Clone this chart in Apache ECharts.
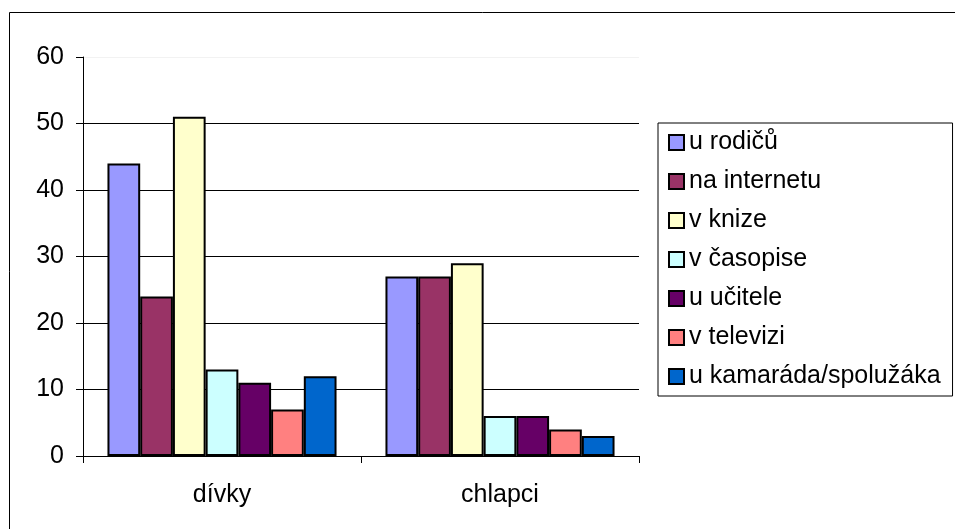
<!DOCTYPE html>
<html>
<head>
<meta charset="utf-8">
<script src="https://cdn.jsdelivr.net/npm/echarts@6/dist/echarts.min.js"></script>
<style>
  html, body { margin: 0; padding: 0; background: #fff; }
  #chart { width: 955px; height: 529px; }
</style>
</head>
<body>
<div id="chart"></div>
<script>
  // kategorie a hodnoty
  const categories = ['dívky', 'chlapci']
  const seriesNames = ['u rodičů', 'na internetu', 'v knize', 'v časopise', 'u učitele', 'v televizi', 'u kamaráda/spolužáka']
  const uRodicu = [44, 27]
  const naInternetu = [24, 27]
  const vKnize = [51, 29]
  const vCasopise = [13, 6]
  const uUcitele = [11, 6]
  const vTelevizi = [7, 4]
  const uKamarada = [12, 3]
  const yTicks = [0, 10, 20, 30, 40, 50, 60]

  const seriesValues = [uRodicu, naInternetu, vKnize, vCasopise, uUcitele, vTelevizi, uKamarada]
  const colors = ['#9999FF', '#993366', '#FFFFCC', '#CCFFFF', '#660066', '#FF8080', '#0066CC']
  const font = "'Liberation Sans', Arial, sans-serif"

  let chart = echarts.init(document.getElementById('chart'))
  let option = {
    animation: false,
    color: colors,
    textStyle: { fontFamily: font },
    graphic: [{
      type: 'rect', // vnější rámeček
      shape: { x: 9.5, y: 12.5, width: 1000, height: 600 },
      style: { fill: 'none', stroke: '#000', lineWidth: 1 },
      silent: true
    }],
    grid: { left: 83, right: 316, top: 57, bottom: 73 },
    legend: {
      orient: 'vertical',
      left: 658,
      top: 123,
      padding: [7, 12, 7, 10],
      itemGap: 14,
      itemWidth: 15,
      itemHeight: 15,
      icon: 'rect',
      borderColor: '#000',
      borderWidth: 1,
      selectedMode: false,
      textStyle: { fontSize: 25, lineHeight: 25, color: '#000', fontFamily: font },
      itemStyle: { borderColor: '#000', borderWidth: 2 },
      data: seriesNames
    },
    xAxis: {
      type: 'category',
      data: categories,
      axisLine: { lineStyle: { color: '#000', width: 1 } },
      axisTick: { show: true, length: 7, lineStyle: { color: '#000' } },
      axisLabel: { fontSize: 25, color: '#000', margin: 27, fontFamily: font },
      splitLine: { show: false }
    },
    yAxis: {
      type: 'value',
      min: yTicks[0],
      max: yTicks[yTicks.length - 1],
      interval: 10,
      axisLine: { show: true, lineStyle: { color: '#000', width: 1 } },
      axisTick: { show: true, length: 7, lineStyle: { color: '#000' } },
      axisLabel: { fontSize: 25, color: '#000', margin: 19, fontFamily: font },
      splitLine: {
        lineStyle: { color: ['#000', '#000', '#000', '#000', '#000', '#000', '#f2f2f2'], width: 1 }
      }
    },
    series: seriesNames.map(function (name, i) {
      return {
        name: name,
        type: 'bar',
        barGap: 0,
        barCategoryGap: '17.6%',
        itemStyle: { borderColor: '#000', borderWidth: 2 },
        data: seriesValues[i]
      }
    })
  }
  chart.setOption(option)
</script>
</body>
</html>
